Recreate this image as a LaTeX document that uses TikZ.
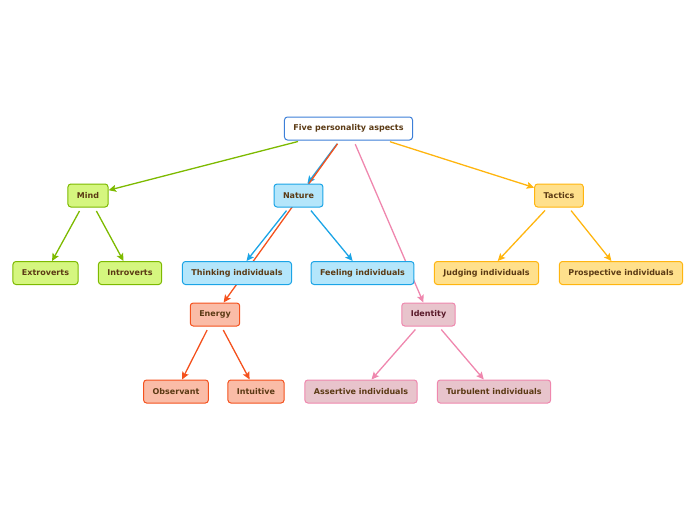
\documentclass[tikz,border=0pt]{standalone}
\usepackage{fontspec}
\setmainfont{DejaVu Sans}
\usetikzlibrary{arrows.meta,backgrounds}
\definecolor{txt}{HTML}{5B3A14}
\definecolor{rootb}{HTML}{3C7FD8}
\definecolor{grnb}{HTML}{7DBA00}\definecolor{grnf}{HTML}{D5F67F}
\definecolor{blub}{HTML}{1BA4E6}\definecolor{bluf}{HTML}{B4E6FB}
\definecolor{yelb}{HTML}{FFB50F}\definecolor{yelf}{HTML}{FFE08C}
\definecolor{orab}{HTML}{F4521E}\definecolor{oraf}{HTML}{FABCA7}
\definecolor{pinb}{HTML}{EF87AE}\definecolor{pinf}{HTML}{E8C4CC}
\definecolor{idtxt}{HTML}{5A1A2A}
\begin{document}
\begin{tikzpicture}[x=1pt,y=-1pt,
  box/.style={rounded corners=3pt,line width=1pt,minimum height=23pt,inner xsep=9pt,inner ysep=0pt,
    font=\fontsize{8}{9.6}\selectfont\bfseries,text=txt},
  rootbox/.style={box,draw=rootb,fill=white},
  grnbox/.style={box,draw=grnb,fill=grnf},
  blubox/.style={box,draw=blub,fill=bluf},
  yelbox/.style={box,draw=yelb,fill=yelf},
  orabox/.style={box,draw=orab,fill=oraf},
  pinbox/.style={box,draw=pinb,fill=pinf},
  conn/.style={line width=1.3pt,-{Stealth[length=7.5pt,width=7pt,inset=1.5pt]},shorten <=4pt}]
\useasboundingbox (0,0) rectangle (696,520);
\node[rootbox] (root) at (348.5,128.5) {Five personality aspects};
\node[grnbox] (mind) at (88,195.5) {Mind};
\node[grnbox] (extro) at (45.5,273) {Extroverts};
\node[grnbox] (intro) at (130,273) {Introverts};
\node[blubox] (nature) at (298.5,195.5) {Nature};
\node[blubox] (think) at (237,273) {Thinking individuals};
\node[blubox] (feel) at (362.5,273) {Feeling individuals};
\node[yelbox] (tactics) at (559,195.5) {Tactics};
\node[yelbox] (judge) at (486.5,273) {Judging individuals};
\node[yelbox] (prosp) at (621,273) {Prospective individuals};
\node[orabox] (energy) at (215,314.5) {Energy};
\node[orabox] (obs) at (176,391.5) {Observant};
\node[orabox] (intu) at (256,391.5) {Intuitive};
\node[pinbox,text=idtxt] (ident) at (428.5,314.5) {Identity};
\node[pinbox] (assert) at (361,391.5) {Assertive individuals};
\node[pinbox] (turb) at (494,391.5) {Turbulent individuals};
\begin{scope}[on background layer]
\draw[conn,grnb] (root) -- (mind);
\draw[conn,grnb] (mind) -- (extro);
\draw[conn,grnb] (mind) -- (intro);
\draw[conn,blub] (root) -- (nature);
\draw[conn,blub] (nature) -- (think);
\draw[conn,blub] (nature) -- (feel);
\draw[conn,yelb] (root) -- (tactics);
\draw[conn,yelb] (tactics) -- (judge);
\draw[conn,yelb] (tactics) -- (prosp);
\draw[conn,orab] (root) -- (energy);
\draw[conn,orab] (energy) -- (obs);
\draw[conn,orab] (energy) -- (intu);
\draw[conn,pinb] (root) -- (ident);
\draw[conn,pinb] (ident) -- (assert);
\draw[conn,pinb] (ident) -- (turb);
\end{scope}
\end{tikzpicture}
\end{document}
